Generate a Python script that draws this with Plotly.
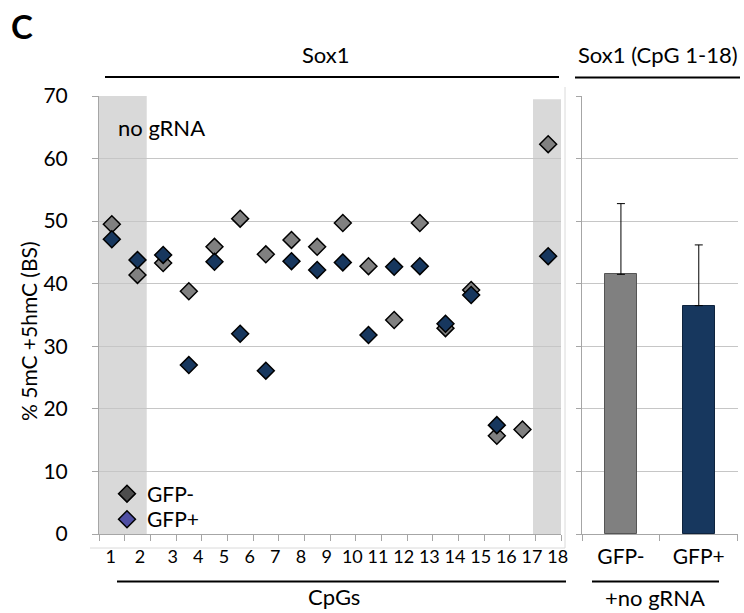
import plotly.graph_objects as go

# ---------------- data ----------------
cpg_labels = [str(i) for i in range(1, 19)]
cpg_pos = list(range(1, 19))
gfp_minus = [49.5, 41.4, 43.3, 38.8, 45.9, 50.4, 44.7, 47.0, 45.9, 49.7,
             42.8, 34.2, 49.7, 32.9, 39.0, 15.7, 16.7, 62.3]
gfp_plus = [47.1, 43.8, 44.6, 27.0, 43.5, 32.0, 26.1, 43.6, 42.2, 43.4,
            31.8, 42.7, 42.8, 33.6, 38.2, 17.4, None, 44.4]
bar_labels = ["GFP-", "GFP+"]
bar_values = [41.5, 36.5]
bar_err = [11.3, 9.7]
series_names = ["GFP-", "GFP+"]

# ---------------- styling ----------------
W, H = 744, 613
FONT = "Lato"
C_GREY = "#808080"
C_NAVY = "#17375E"
GRID = "#C6C6C6"
AXL = "#A6A6A6"
label_shift = [-0.04, 0.10] + [0.37] * 16
legend_cols = ["#4D4D4D", "#4F4FA3"]
legend_tops = [473.5, 499.1]


def px(x):
    return x / W


def py(y):
    return 1 - y / H


ydom = [py(534), py(96)]
fig = go.Figure()

mk = dict(symbol="diamond", size=13, line=dict(color="black", width=1.5))
fig.add_trace(go.Scatter(x=cpg_pos, y=gfp_minus, mode="markers", showlegend=False,
                         marker=dict(color=C_GREY, **mk), xaxis="x", yaxis="y"))
fig.add_trace(go.Scatter(x=cpg_pos, y=gfp_plus, mode="markers", showlegend=False,
                         marker=dict(color=C_NAVY, **mk), xaxis="x", yaxis="y"))
# legend-only entries (each in its own legend box for tight spacing)
leg_ids = ["legend", "legend2"]
for name, col, lid in zip(series_names, legend_cols, leg_ids):
    fig.add_trace(go.Scatter(x=[None], y=[None], mode="markers", name=name, legend=lid,
                             marker=dict(color=col, **mk), xaxis="x", yaxis="y"))

fig.add_trace(go.Bar(x=[0, 1], y=bar_values, width=0.41,
                     marker=dict(color=[C_GREY, C_NAVY],
                                 line=dict(color=["#555555", "#0E233D"], width=1)),
                     error_y=dict(type="data", array=bar_err, symmetric=False,
                                  arrayminus=[0, 0], color="black", thickness=1, width=4),
                     showlegend=False, xaxis="x2", yaxis="y2"))

legend_style = dict(x=px(107), xanchor="left", yanchor="top",
                    bgcolor="rgba(0,0,0,0)", font=dict(size=21, family=FONT),
                    itemsizing="trace", tracegroupgap=0)

fig.update_layout(
    width=W, height=H, margin=dict(l=0, r=0, t=0, b=0, autoexpand=False),
    paper_bgcolor="white", plot_bgcolor="rgba(0,0,0,0)",
    font=dict(family=FONT, color="black"),
    xaxis=dict(domain=[px(99), px(561)], range=[0.5, 18.5], showgrid=False, zeroline=False,
               automargin=False,
               tickmode="array", tickvals=[p + s for p, s in zip(cpg_pos, label_shift)],
               ticktext=cpg_labels, ticks="", tickfont=dict(size=18, family=FONT),
               ticklabelstandoff=6,
               showline=True, linecolor=AXL, linewidth=1,
               minor=dict(tickmode="array", tickvals=[p - 0.5 for p in cpg_pos] + [18.5],
                          ticks="outside", ticklen=6, tickcolor=AXL, tickwidth=1, showgrid=False)),
    yaxis=dict(domain=ydom, range=[0, 70], dtick=10, showgrid=True, gridcolor=GRID, gridwidth=1,
               automargin=False,
               zeroline=False, showline=True, linecolor=AXL, ticks="outside", ticklen=6,
               tickcolor=AXL, tickfont=dict(size=21, family=FONT), ticklabelstandoff=20),
    xaxis2=dict(domain=[px(582), px(737.7)], range=[-0.5, 1.5], showgrid=False, zeroline=False,
                automargin=False,
                tickmode="array", tickvals=[0, 1], ticktext=bar_labels, ticks="",
                tickfont=dict(size=21, family=FONT), ticklabelstandoff=4,
                showline=True, linecolor=AXL, anchor="y2",
                minor=dict(tickmode="array", tickvals=[-0.5, 0.5, 1.5], ticks="outside",
                           ticklen=6, tickcolor=AXL, showgrid=False)),
    yaxis2=dict(domain=ydom, range=[0, 70], dtick=10, showgrid=True, gridcolor=GRID,
                automargin=False,
                zeroline=False, showline=True, linecolor=AXL, ticks="outside", ticklen=5,
                tickcolor=AXL, showticklabels=False, anchor="x2"),
    legend=dict(y=py(legend_tops[0]), **legend_style),
    legend2=dict(y=py(legend_tops[1]), **legend_style),
    bargap=0,
)

shapes = [
    # shaded "no gRNA" regions
    dict(type="rect", xref="x", yref="y", x0=0.5, x1=2.36, y0=0, y1=70,
         fillcolor="#D9D9D9", line=dict(width=0), layer="below"),
    dict(type="rect", xref="x", yref="y", x0=17.41, x1=18.5, y0=0, y1=69.5,
         fillcolor="#D9D9D9", line=dict(width=0), layer="below"),
    # faint chart-area border
    dict(type="line", xref="paper", yref="paper", x0=px(90), x1=px(565), y0=py(548), y1=py(548),
         line=dict(color="#DADADA", width=1)),
    dict(type="line", xref="paper", yref="paper", x0=px(565), x1=px(565), y0=py(87), y1=py(548),
         line=dict(color="#DADADA", width=1)),
    # header / footer bracket lines
    dict(type="line", xref="paper", yref="paper", x0=px(105), x1=px(559), y0=py(77), y1=py(77),
         line=dict(color="black", width=2)),
    dict(type="line", xref="paper", yref="paper", x0=px(575), x1=px(740), y0=py(77.5), y1=py(77.5),
         line=dict(color="black", width=2)),
    dict(type="line", xref="paper", yref="paper", x0=px(117), x1=px(566), y0=py(581.5), y1=py(581.5),
         line=dict(color="black", width=2)),
    dict(type="line", xref="paper", yref="paper", x0=px(592), x1=px(719), y0=py(581.5), y1=py(581.5),
         line=dict(color="black", width=2)),
]
fig.update_layout(shapes=shapes)

ann = [
    dict(text="<b>C</b>", x=px(22), y=py(26), font=dict(size=33)),
    dict(text="Sox1", x=px(326), y=py(55), font=dict(size=22)),
    dict(text="Sox1 (CpG 1-18)", x=px(658), y=py(55), font=dict(size=22)),
    dict(text="CpGs", x=px(334), y=py(596), font=dict(size=22)),
    dict(text="+no gRNA", x=px(655), y=py(597), font=dict(size=22)),
    dict(text="% 5mC +5hmC (BS)", x=px(28), y=py(331), textangle=-90, font=dict(size=21)),
]
for a in ann:
    fig.add_annotation(xref="paper", yref="paper", showarrow=False,
                       xanchor="center", yanchor="middle", **a)
fig.add_annotation(xref="x", yref="y", x=1.18, y=64.9, text="no gRNA", showarrow=False,
                   xanchor="left", yanchor="middle", font=dict(size=22))

fig.write_html("out.html")
